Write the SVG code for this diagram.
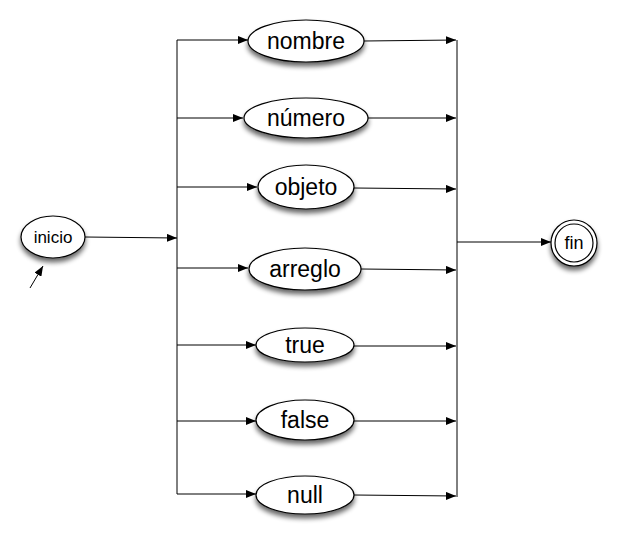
<svg xmlns="http://www.w3.org/2000/svg" width="618" height="539" viewBox="0 0 618 539">
<defs>
<filter id="sh" x="-30%" y="-30%" width="160%" height="180%">
<feGaussianBlur in="SourceAlpha" stdDeviation="2.5"/>
<feOffset dx="0" dy="4" result="b"/>
<feComponentTransfer><feFuncA type="linear" slope="0.6"/></feComponentTransfer>
<feMerge><feMergeNode/><feMergeNode in="SourceGraphic"/></feMerge>
</filter>
<marker id="ar" viewBox="0 0 10 8" refX="10" refY="4" markerWidth="10" markerHeight="8" markerUnits="userSpaceOnUse" orient="auto">
<path d="M0,0 L10,4 L0,8 z" fill="#000"/>
</marker>
</defs>
<style>
.n ellipse, .n circle { fill:#fff; stroke:#000; stroke-width:1.2; }
.t { font-family:"Liberation Sans", Arial, sans-serif; font-size:23px; text-anchor:middle; fill:#000; }
.c line, .c path { stroke:#000; stroke-width:1; fill:none; }
</style>
<g class="c" id="connectors">
<line x1="177" y1="40" x2="177" y2="494"/>
<line x1="457" y1="40" x2="457" y2="497"/>
<line x1="85" y1="237" x2="177" y2="238" marker-end="url(#ar)"/>
<line x1="30" y1="288" x2="43" y2="266" marker-end="url(#ar)"/>
<line x1="177" y1="40" x2="248" y2="40" marker-end="url(#ar)"/>
<line x1="177" y1="118" x2="243" y2="118" marker-end="url(#ar)"/>
<line x1="177" y1="187" x2="257" y2="187" marker-end="url(#ar)"/>
<line x1="177" y1="268" x2="248" y2="268" marker-end="url(#ar)"/>
<line x1="177" y1="345" x2="256" y2="345" marker-end="url(#ar)"/>
<line x1="177" y1="421" x2="256" y2="421" marker-end="url(#ar)"/>
<line x1="177" y1="494" x2="256" y2="494" marker-end="url(#ar)"/>
<line x1="364" y1="41" x2="456" y2="40" marker-end="url(#ar)"/>
<line x1="368" y1="118" x2="456" y2="118" marker-end="url(#ar)"/>
<line x1="354" y1="188" x2="456" y2="189" marker-end="url(#ar)"/>
<line x1="361" y1="269" x2="456" y2="270" marker-end="url(#ar)"/>
<line x1="354" y1="346" x2="456" y2="346" marker-end="url(#ar)"/>
<line x1="354" y1="421" x2="456" y2="421" marker-end="url(#ar)"/>
<line x1="354" y1="495" x2="456" y2="496" marker-end="url(#ar)"/>
<line x1="457" y1="242" x2="551" y2="242" marker-end="url(#ar)"/>
</g>
<g class="n" id="inicio"><ellipse cx="53" cy="237" rx="32" ry="21" filter="url(#sh)"/><text class="t" x="53" y="243" style="font-size:17px">inicio</text></g>
<g class="n" id="nombre"><ellipse cx="306" cy="41" rx="58" ry="21" filter="url(#sh)"/><text class="t" x="306" y="49">nombre</text></g>
<g class="n" id="numero"><ellipse cx="306" cy="118" rx="62" ry="20" filter="url(#sh)"/><text class="t" x="306" y="126">número</text></g>
<g class="n" id="objeto"><ellipse cx="306" cy="187" rx="48" ry="22" filter="url(#sh)"/><text class="t" x="306" y="195">objeto</text></g>
<g class="n" id="arreglo"><ellipse cx="305" cy="269" rx="56" ry="21" filter="url(#sh)"/><text class="t" x="305" y="277">arreglo</text></g>
<g class="n" id="true"><ellipse cx="305" cy="345" rx="49" ry="17" filter="url(#sh)"/><text class="t" x="305" y="353">true</text></g>
<g class="n" id="false"><ellipse cx="305" cy="420" rx="49" ry="20" filter="url(#sh)"/><text class="t" x="305" y="428">false</text></g>
<g class="n" id="null"><ellipse cx="305" cy="495" rx="49" ry="19" filter="url(#sh)"/><text class="t" x="305" y="503">null</text></g>
<g class="n" id="fin"><circle cx="574" cy="243" r="23" filter="url(#sh)"/><circle cx="574" cy="243" r="19"/><text class="t" x="574" y="249" style="font-size:18px">fin</text></g>
</svg>
